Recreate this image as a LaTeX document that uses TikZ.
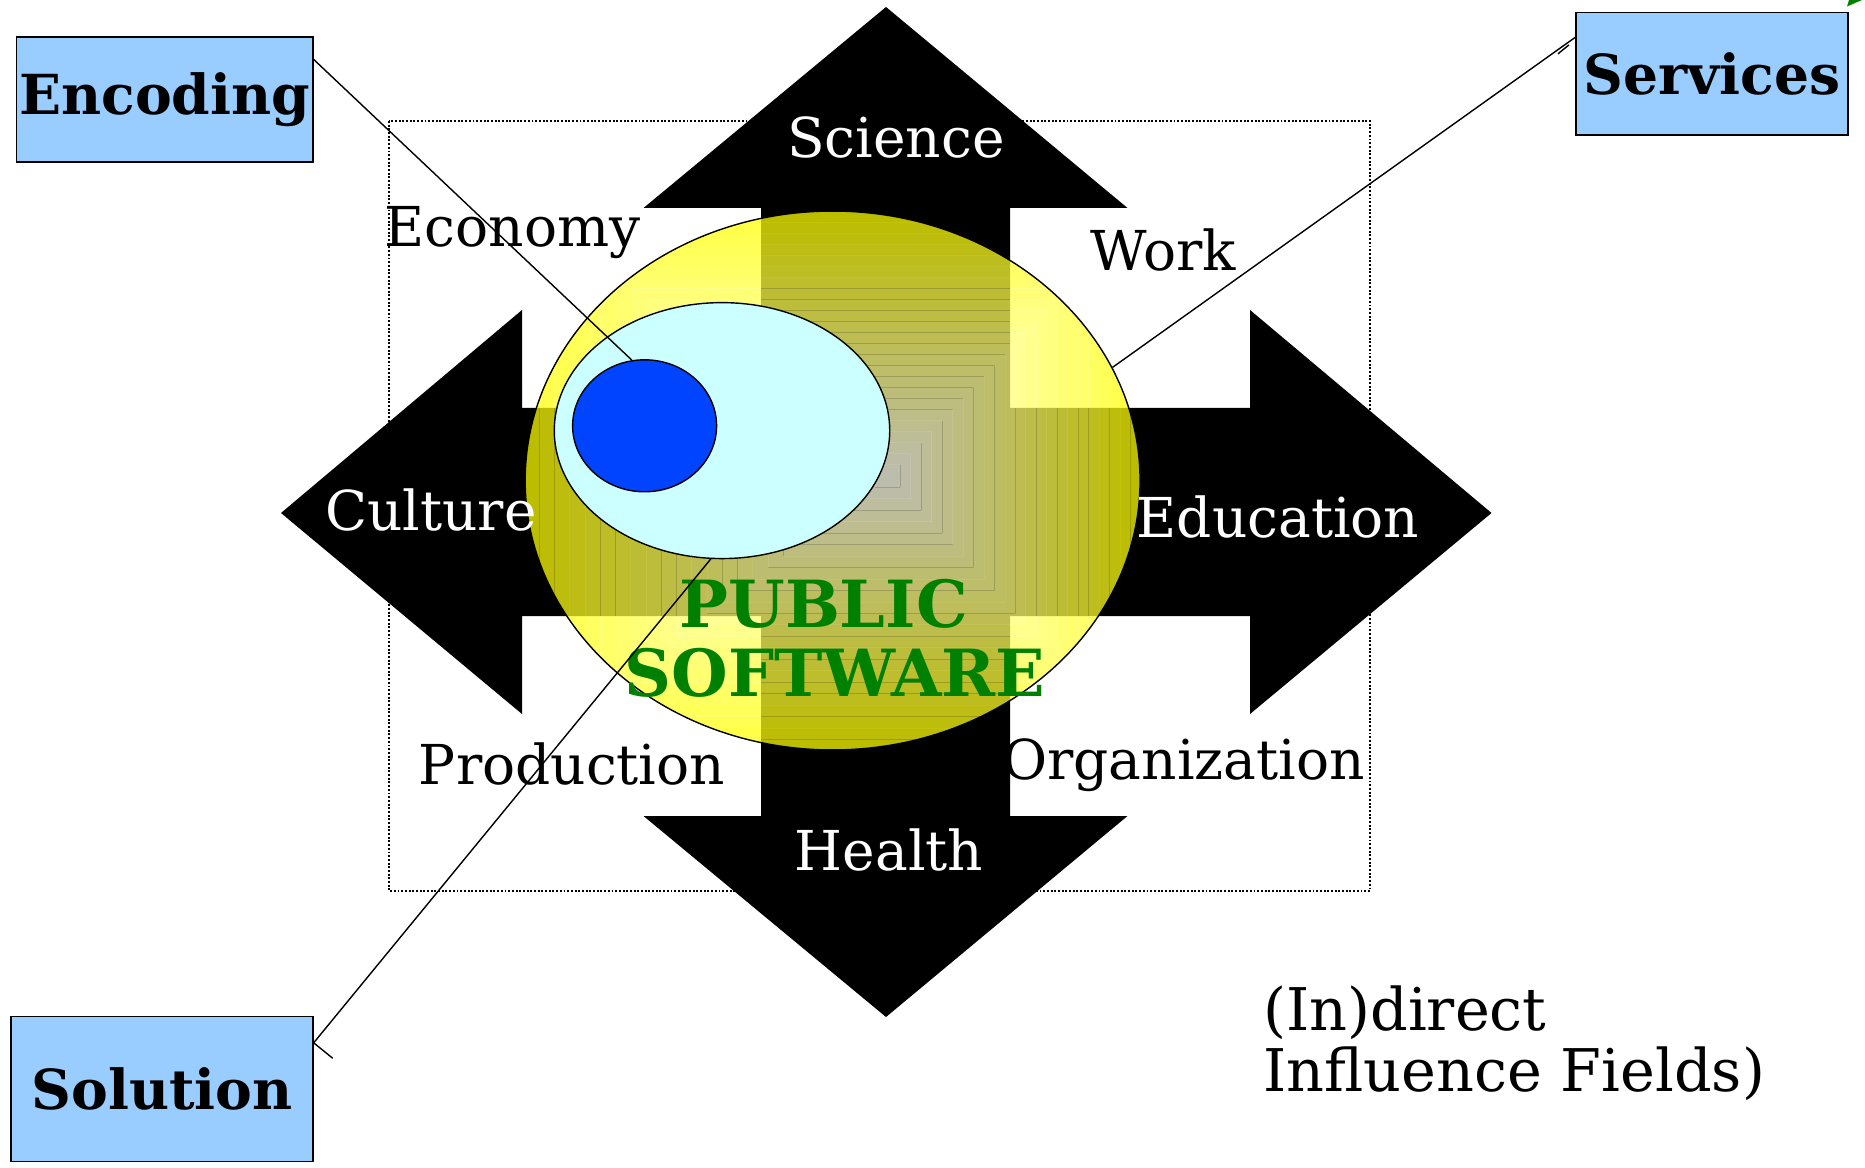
\documentclass[tikz,border=0pt]{standalone}
\usepackage{fontspec}
\setmainfont{DejaVu Serif}
\usetikzlibrary{shapes.geometric,calc}
\definecolor{boxblue}{RGB}{153,204,255}
\definecolor{paleCyan}{RGB}{204,255,255}
\definecolor{coreBlue}{RGB}{0,68,255}
\definecolor{swGreen}{RGB}{0,128,0}
\definecolor{swYellow}{RGB}{255,255,0}
\definecolor{swLight}{RGB}{255,255,236}
\tikzset{
  field/.style={font=\fontsize{31.3}{36}\selectfont,anchor=base,inner sep=0pt},
  tag/.style={draw,fill=boxblue,inner sep=0pt,font=\bfseries\fontsize{31.4}{36}\selectfont},
  blob/.style={ellipse,draw,inner sep=0pt},
  glow/.style={fill opacity=.74,even odd rule}
}
\begin{document}
\begin{tikzpicture}[x=.02cm,y={(0cm,-.02cm)},line width=.8pt]
  \useasboundingbox (0,0) rectangle (1865,1168);
  \draw[densely dotted,line width=1.1pt] (389,121) rectangle (1370,891);
  \fill (886,7) -- (1127.5,208) -- (1010,208) -- (1010,408) -- (1250,408) -- (1250,310)
    -- (1491.5,513) -- (1250,714) -- (1250,616) -- (1010,616) -- (1010,816) -- (1127.5,816)
    -- (886,1017) -- (643.5,816) -- (761,816) -- (761,616) -- (522,616) -- (522,714)
    -- (281,513) -- (522,310) -- (522,408) -- (761,408) -- (761,208) -- (643.5,208) -- cycle;
  \coordinate (G) at (890,476);
  \coordinate (NW) at (524,211);
  \coordinate (SE) at (1141,751);
  \node[blob,minimum width=12.3cm,minimum height=10.78cm,path picture={
      \foreach \k in {0,...,23} {
        \pgfmathsetmacro\so{1-\k/24}
        \pgfmathsetmacro\si{1-(\k+1)/24}
        \pgfmathsetmacro\mx{100*\k/23}
        \fill[glow,swLight!\mx!swYellow] ($(G)!\so!(NW)$) rectangle ($(G)!\so!(SE)$)
          ($(G)!\si!(NW)$) rectangle ($(G)!\si!(SE)$);
      }
    }] (sw) at (832.6,480.5) {};
  \node[blob,fill=paleCyan,minimum width=6.71cm,minimum height=5.12cm] (inner) at (722,430.6) {};
  \node[blob,fill=coreBlue,minimum width=2.88cm,minimum height=2.64cm] (core) at (644.6,425.8) {};
  \node[field,text=white] (sci) at (896,158) {Science};
  \node[field] (eco) at (512.6,247) {Economy};
  \node[field] (wrk) at (1163,271) {Work};
  \node[field,text=white] (cul) at (431,530.5) {Culture};
  \node[field,text=white] (edu) at (1278,537.6) {Education};
  \node[field] (prd) at (572,784) {Production};
  \node[field] (org) at (1183.5,779) {Organization};
  \node[field,text=white] (hlt) at (889,870.6) {Health};
  \node[font=\bfseries\fontsize{37}{39.3}\selectfont,text=swGreen,align=center,inner sep=0pt] (pub) at (835,638.5) {PUBLIC\hspace*{.35em}\\SOFTWARE};
  \node[font=\fontsize{33.5}{35}\selectfont,align=left,anchor=north west,inner sep=0pt] (ind) at (1262.6,985) {(In)direct\\Influence Fields)};
  \node[tag,minimum width=5.93cm,minimum height=2.5cm] (enc) at (164.8,99.4) {Encoding};
  \node[tag,minimum width=5.44cm,minimum height=2.45cm] (svc) at (1712,73.9) {Services};
  \node[tag,minimum width=6.04cm,minimum height=2.9cm] (sol) at (162,1089.2) {Solution};
  \fill[swGreen] (1847,6.5) -- (1849,0) -- (1862,0) -- cycle;
  \draw (enc.15) -- (core.101);
  \draw (sw.22) -- (svc.165);
  \draw (svc.165) ++(-6.4,7.6) -- ++(-11,9);
  \draw (inner.265) -- (sol.17);
  \draw (sol.17) -- ++(19,15.4);
\end{tikzpicture}
\end{document}
